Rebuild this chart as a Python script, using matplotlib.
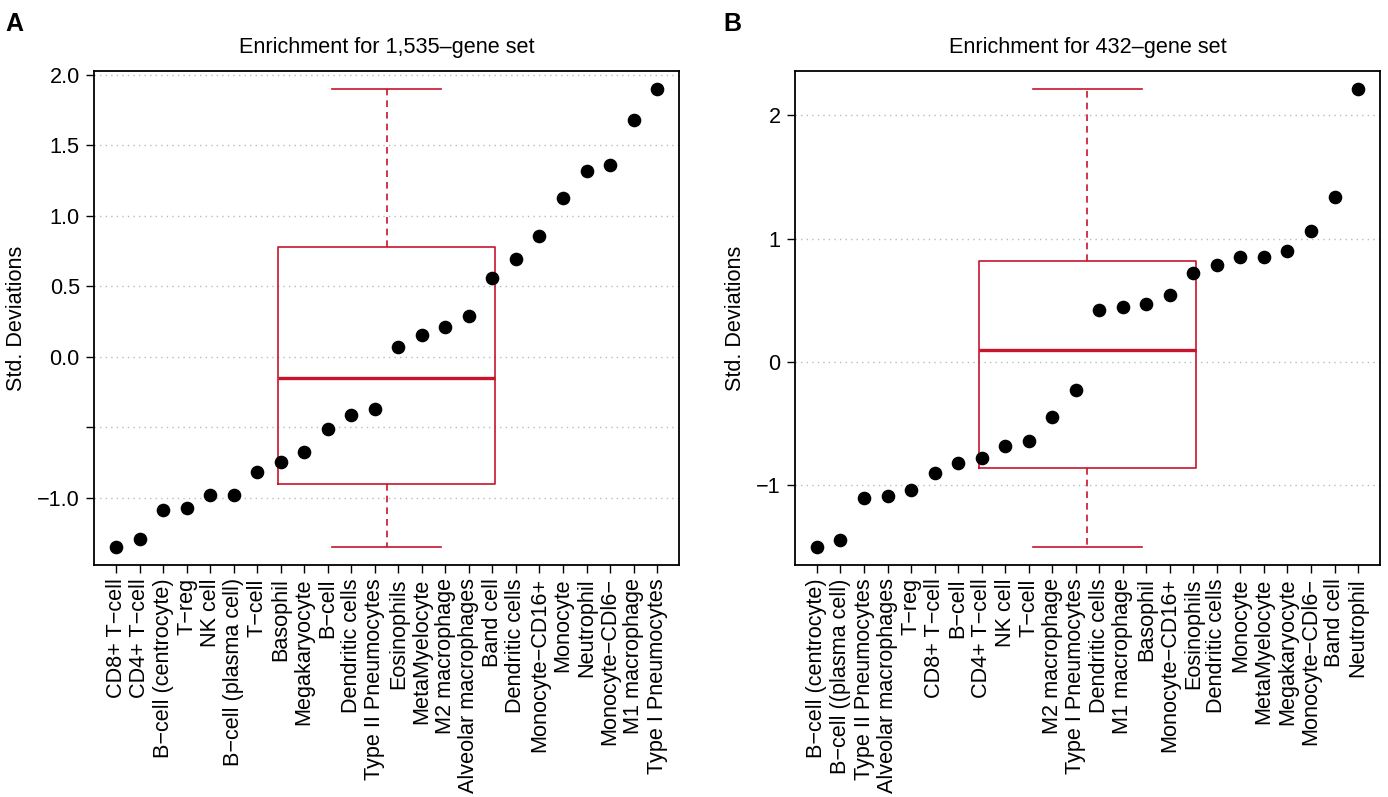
import numpy as np
import matplotlib.pyplot as plt

plt.rcParams['font.family'] = ['Liberation Sans', 'DejaVu Sans']

# ---------------- data ----------------
labels_a = ['CD8+ T−cell', 'CD4+ T−cell', 'B−cell (centrocyte)', 'T−reg', 'NK cell',
            'B−cell (plasma cell)', 'T−cell', 'Basophil', 'Megakaryocyte', 'B−cell',
            'Dendritic cells', 'Type II Pneumocytes', 'Eosinophils', 'MetaMyelocyte',
            'M2 macrophage', 'Alveolar macrophages', 'Band cell', 'Dendritic cells',
            'Monocyte−CD16+', 'Monocyte', 'Neutrophil', 'Monocyte−CDl6−',
            'M1 macrophage', 'Type I Pneumocytes']
values_a = [-1.348, -1.293, -1.087, -1.076, -0.981, -0.981, -0.818, -0.749, -0.676,
            -0.511, -0.416, -0.371, 0.069, 0.156, 0.213, 0.289, 0.560, 0.695,
            0.858, 1.126, 1.317, 1.360, 1.679, 1.896]

labels_b = ['B−cell (centrocyte)', 'B−cell ((plasma cell)', 'Type II Pneumocytes',
            'Alveolar macrophages', 'T−reg', 'CD8+ T−cell', 'B−cell', 'CD4+ T−cell',
            'NK cell', 'T−cell', 'M2 macrophage', 'Type I Pneumocytes', 'Dendritic cells',
            'M1 macrophage', 'Basophil', 'Monocyte−CD16+', 'Eosinophils',
            'Dendritic cells', 'Monocyte', 'MetaMyelocyte', 'Megakaryocyte',
            'Monocyte−CDl6−', 'Band cell', 'Neutrophil']
values_b = [-1.498, -1.446, -1.100, -1.089, -1.035, -0.903, -0.819, -0.779, -0.684,
            -0.643, -0.447, -0.227, 0.424, 0.446, 0.473, 0.546, 0.724, 0.789,
            0.852, 0.852, 0.900, 1.060, 1.338, 2.212]

yticks_a = [-1.0, -0.5, 0.0, 0.5, 1.0, 1.5, 2.0]
yticklabels_a = ['−1.0', '', '0.0', '0.5', '1.0', '1.5', '2.0']
yticks_b = [-1, 0, 1, 2]
yticklabels_b = ['−1', '0', '1', '2']

titles = ['Enrichment for 1,535–gene set', 'Enrichment for 432–gene set']

RED = '#C8142C'
FS = 15.6


def box_stats(v):
    # Tukey hinges, like R's boxplot
    s = np.sort(np.asarray(v))
    n = len(s)
    med = np.median(s)
    half = (n + 1) // 2
    q1 = np.median(s[:half])
    q3 = np.median(s[n - half:])
    iqr = q3 - q1
    lo = s[s >= q1 - 1.5 * iqr].min()
    hi = s[s <= q3 + 1.5 * iqr].max()
    return dict(med=med, q1=q1, q3=q3, whislo=lo, whishi=hi, fliers=[])


def panel(ax, labels, values, yticks, yticklabels, title):
    n = len(values)
    x = np.arange(1, n + 1)
    ext = 0.04 * (n - 1)
    ax.set_xlim(1 - ext, n + ext)
    r = max(values) - min(values)
    ax.set_ylim(min(values) - 0.04 * r, max(values) + 0.04 * r)

    # grid
    ax.set_xticks([5, 10, 15, 20], minor=True)
    ax.grid(axis='x', which='minor', color='#BBBBBB', linestyle=(0, (1, 3)), lw=1)
    ax.grid(axis='y', which='major', color='#BBBBBB', linestyle=(0, (1, 3)), lw=1)
    ax.set_axisbelow(True)

    ax.bxp([box_stats(values)], positions=[(n + 1) / 2], widths=9.24, capwidths=4.62,
           showfliers=False, manage_ticks=False,
           boxprops=dict(color=RED, lw=1.2),
           medianprops=dict(color=RED, lw=2.4),
           whiskerprops=dict(color=RED, lw=1.2, linestyle=(0, (4, 3))),
           capprops=dict(color=RED, lw=1.2))

    ax.plot(x, values, 'o', color='black', ms=8.8, zorder=5)

    ax.set_xticks(x)
    ax.set_xticklabels(labels, rotation=90, fontsize=FS)
    ax.set_yticks(yticks)
    ax.set_yticklabels(yticklabels, fontsize=FS)
    ax.tick_params(axis='both', which='major', direction='out', length=5.5,
                   width=1, pad=4)
    ax.tick_params(axis='x', which='minor', length=0)
    ax.tick_params(axis='y', pad=5)
    ax.set_ylabel('Std. Deviations', fontsize=FS, labelpad=7)
    ax.set_title(title, fontsize=FS, pad=13)
    for sp in ax.spines.values():
        sp.set_linewidth(1.3)


fig = plt.figure(figsize=(13.88, 7.97), dpi=100)
ax1 = fig.add_axes([0.068, 0.291, 0.421, 0.620])
ax2 = fig.add_axes([0.573, 0.291, 0.421, 0.620])

panel(ax1, labels_a, values_a, yticks_a, yticklabels_a, titles[0])
panel(ax2, labels_b, values_b, yticks_b, yticklabels_b, titles[1])

fig.text(0.004, 0.985, 'A', fontsize=18, fontweight='bold', va='top')
fig.text(0.521, 0.985, 'B', fontsize=18, fontweight='bold', va='top')

fig.savefig('out.png', dpi=100)
